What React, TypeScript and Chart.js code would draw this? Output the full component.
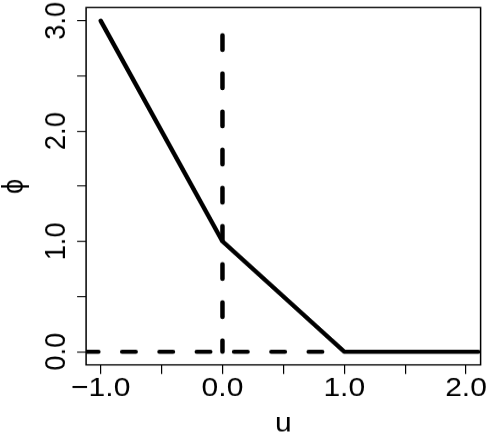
import React, { useEffect, useRef } from 'react';
import { Chart, registerables } from 'chart.js';

Chart.register(...registerables);

// ---- data ----
const solidU = [-1, 0, 1, 2.1];
const solidPhi = [3, 1, 0, 0];
const vDashU = [0, 0];
const vDashPhi = [2.87, 0];
const hDashU = [-1.13, 1];
const hDashPhi = [0, 0];
const xTickValues = [-1, 0, 1, 2];
const xTickLabels = ['\u22121.0', '0.0', '1.0', '2.0'];
const yTickValues = [0, 1, 2, 3];
const yTickLabels = ['0.0', '1.0', '2.0', '3.0'];
const xTitle = 'u';
const yTitle = '\u03D5';

const FONT = '"Liberation Sans", Arial, Helvetica, sans-serif';
const FS = 30;
const W = 486;
const H_DRAW = 480;
const H_SHOW = 436;

function pts(xs: number[], ys: number[]) {
  return xs.map((x, i) => ({ x, y: ys[i] }));
}

function labelFor(values: number[], labels: string[], v: number) {
  const i = values.findIndex((t) => Math.abs(t - v) < 1e-9);
  return i >= 0 ? labels[i] : '';
}

// draws the frame and the rotated (R-style) y tick labels from the y scale
const boxAndYLabels = {
  id: 'boxAndYLabels',
  afterDraw(chart: any) {
    const { ctx, chartArea: a, scales } = chart;
    const y = scales.y;
    ctx.save();
    ctx.strokeStyle = '#000';
    ctx.lineWidth = 1.5;
    ctx.strokeRect(a.left, a.top, a.right - a.left, a.bottom - a.top);
    ctx.fillStyle = '#000';
    ctx.font = `${FS}px ${FONT}`;
    ctx.textAlign = 'center';
    ctx.textBaseline = 'alphabetic';
    const bx = a.left - 21;
    yTickValues.forEach((v, i) => {
      const py = y.getPixelForValue(v);
      ctx.save();
      ctx.translate(bx, py);
      ctx.rotate(-Math.PI / 2);
      ctx.fillText(yTickLabels[i], 0, 0);
      ctx.restore();
    });
    ctx.restore();
  },
};

export default function App() {
  const ref = useRef<HTMLCanvasElement | null>(null);

  useEffect(() => {
    if (!ref.current) return;
    Chart.defaults.font.family = FONT;
    const chart = new Chart(ref.current, {
      type: 'scatter',
      data: {
        datasets: [
          {
            data: pts(solidU, solidPhi),
            showLine: true,
            borderColor: '#000',
            borderWidth: 4.5,
            borderCapStyle: 'round',
            borderJoinStyle: 'round',
            pointRadius: 0,
          },
          {
            data: pts(vDashU, vDashPhi),
            showLine: true,
            borderColor: '#000',
            borderWidth: 4.5,
            borderCapStyle: 'round',
            borderDash: [16.4, 25.6],
            pointRadius: 0,
          },
          {
            data: pts(hDashU, hDashPhi),
            showLine: true,
            borderColor: '#000',
            borderWidth: 4.5,
            borderCapStyle: 'round',
            borderDash: [13.5, 23.8],
            pointRadius: 0,
          },
        ],
      } as any,
      options: {
        animation: false,
        responsive: false,
        devicePixelRatio: 1,
        layout: { padding: { top: 8.3, right: 5.4, left: 0, bottom: 0 } },
        plugins: { legend: { display: false }, tooltip: { enabled: false } },
        scales: {
          x: {
            type: 'linear',
            min: -1.12,
            max: 2.12,
            afterFit: (s: any) => {
              s.height = 78.3;
              s.paddingLeft = 0;
              s.paddingRight = 0;
            },
            border: { display: false },
            grid: {
              drawOnChartArea: false,
              drawTicks: true,
              tickLength: 10,
              color: '#000',
              lineWidth: 1.2,
            },
            ticks: {
              stepSize: 0.5,
              includeBounds: false,
              autoSkip: false,
              maxRotation: 0,
              minRotation: 0,
              padding: -2,
              color: '#000',
              font: { size: FS },
              callback: (v: any) => labelFor(xTickValues, xTickLabels, Number(v)),
            },
            title: {
              display: true,
              text: xTitle,
              color: '#000',
              font: { size: FS },
              padding: { top: 0, bottom: -5 },
            },
          },
          y: {
            type: 'linear',
            min: -0.12,
            max: 3.12,
            afterFit: (s: any) => {
              s.width = 86.1;
              s.paddingTop = 0;
              s.paddingBottom = 0;
            },
            border: { display: false },
            grid: {
              drawOnChartArea: false,
              drawTicks: true,
              tickLength: 9,
              color: '#000',
              lineWidth: 1.2,
            },
            ticks: {
              stepSize: 0.5,
              includeBounds: false,
              autoSkip: false,
              color: 'rgba(0,0,0,0)',
              font: { size: 1 },
              callback: () => '',
            },
            title: {
              display: true,
              text: yTitle,
              color: '#000',
              font: { size: FS },
              padding: { top: -3.6, bottom: 0 },
            },
          },
        },
      } as any,
      plugins: [boxAndYLabels],
    });
    return () => chart.destroy();
  }, []);

  return (
    <div style={{ position: 'fixed', left: 0, top: 0, width: W, height: H_SHOW, background: '#fff' }}>
      <canvas
        ref={ref}
        width={W}
        height={H_DRAW}
        style={{ width: `${W}px`, height: `${H_SHOW}px`, display: 'block' }}
      />
    </div>
  );
}
